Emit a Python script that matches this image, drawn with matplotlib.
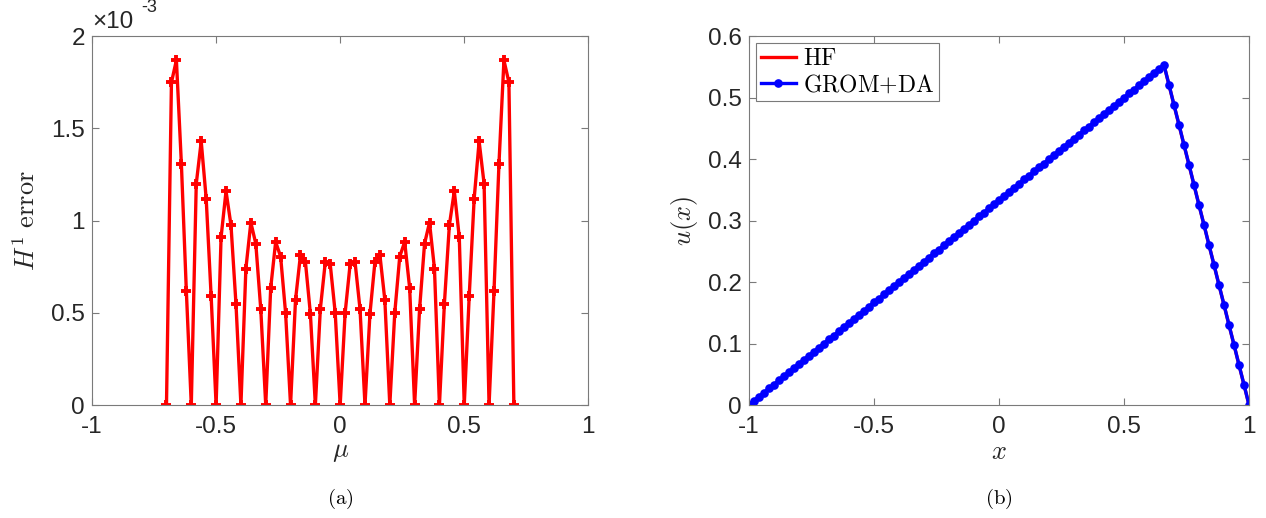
import numpy as np
import matplotlib.pyplot as plt

plt.rcParams['font.family'] = ['Liberation Sans', 'DejaVu Sans']
plt.rcParams['mathtext.fontset'] = 'cm'

# (a) H1 error vs mu, error values in units of 1e-3
mu = np.linspace(-0.7, 0.7, 71)
h1_err_e3 = [0, 1.75, 1.87, 1.31, 0.62, 0, 1.20, 1.43, 1.12, 0.59,
             0, 0.91, 1.16, 0.975, 0.55, 0, 0.74, 0.99, 0.875, 0.52,
             0, 0.635, 0.885, 0.805, 0.50, 0, 0.57, 0.815, 0.775, 0.495,
             0, 0.52, 0.775, 0.763, 0.50, 0,
             0.50, 0.763, 0.775, 0.52, 0, 0.495, 0.775, 0.815, 0.57,
             0, 0.50, 0.805, 0.885, 0.635, 0, 0.52, 0.875, 0.99, 0.74,
             0, 0.55, 0.975, 1.16, 0.91, 0, 0.59, 1.12, 1.43, 1.20,
             0, 0.62, 1.31, 1.87, 1.75, 0]

# (b) solution u(x): high fidelity and GROM+DA
hf_x = [-1.0, 0.66, 1.0]
hf_u = [0.0, 0.553, 0.0]
grom_x = np.linspace(-1.0, 1.0, 101)
grom_u = [0.000, 0.007, 0.013, 0.020, 0.027, 0.033, 0.040, 0.047, 0.053, 0.060,
          0.067, 0.073, 0.080, 0.087, 0.093, 0.100, 0.107, 0.113, 0.120, 0.127,
          0.133, 0.140, 0.147, 0.153, 0.160, 0.167, 0.173, 0.180, 0.187, 0.193,
          0.200, 0.207, 0.213, 0.220, 0.227, 0.233, 0.240, 0.247, 0.253, 0.260,
          0.267, 0.273, 0.280, 0.287, 0.293, 0.300, 0.307, 0.313, 0.320, 0.327,
          0.333, 0.340, 0.347, 0.353, 0.360, 0.367, 0.373, 0.380, 0.387, 0.393,
          0.400, 0.407, 0.413, 0.420, 0.427, 0.433, 0.440, 0.447, 0.453, 0.460,
          0.467, 0.473, 0.480, 0.487, 0.493, 0.500, 0.507, 0.513, 0.520, 0.527,
          0.533, 0.540, 0.547, 0.553,
          0.521, 0.488, 0.456, 0.423, 0.391, 0.358, 0.325, 0.293, 0.260, 0.228,
          0.195, 0.163, 0.130, 0.098, 0.065, 0.033, 0.000]

x_ticks = [-1, -0.5, 0, 0.5, 1]
x_ticklabels = ['-1', '-0.5', '0', '0.5', '1']
err_ticks = [0, 0.5, 1, 1.5, 2]
err_ticklabels = ['0', '0.5', '1', '1.5', '2']
u_ticks = [0, 0.1, 0.2, 0.3, 0.4, 0.5, 0.6]
u_ticklabels = ['0', '0.1', '0.2', '0.3', '0.4', '0.5', '0.6']

axis_col = '#7a7a7a'
text_col = '#262626'
tick_fs = 17.5


def style_axes(ax):
    for s in ax.spines.values():
        s.set_color(axis_col)
        s.set_linewidth(0.8)
    ax.tick_params(direction='in', length=5, width=0.8, color=axis_col,
                   labelcolor=text_col, labelsize=tick_fs,
                   top=True, right=True, pad=5)
    ax.tick_params(axis='x', pad=8)


fig = plt.figure(figsize=(12.66, 5.18), dpi=100)
ax1 = fig.add_axes([0.0727, 0.218, 0.392, 0.712])
ax2 = fig.add_axes([0.5916, 0.218, 0.395, 0.712])

# left panel
ax1.plot(mu, h1_err_e3, color='red', lw=2.4, marker='+', ms=7, mew=2.8)
ax1.set_xlim(-1, 1)
ax1.set_ylim(0, 2)
ax1.set_xticks(x_ticks)
ax1.set_xticklabels(x_ticklabels)
ax1.set_yticks(err_ticks)
ax1.set_yticklabels(err_ticklabels)
style_axes(ax1)
ax1.set_xlabel(r'$\mu$', fontsize=19, color=text_col, labelpad=1)
ax1.set_ylabel(r'$H^1\ \mathrm{error}$', fontsize=19, color=text_col, labelpad=8)
ax1.text(0.0, 1.01, '\u00d710', transform=ax1.transAxes, fontsize=17.5,
         color=text_col, ha='left', va='bottom')
ax1.text(0.1, 1.055, '-3', transform=ax1.transAxes, fontsize=13,
         color=text_col, ha='left', va='bottom')
ax1.text(0.5, -0.255, r'$\mathrm{(a)}$', transform=ax1.transAxes, fontsize=15,
         ha='center', va='center')

# right panel
ax2.plot(hf_x, hf_u, color='red', lw=2.4, label=r'$\mathrm{HF}$')
ax2.plot(grom_x, grom_u, color='blue', lw=2.4, marker='o', ms=5.2,
         label=r'$\mathrm{GROM{+}DA}$')
ax2.set_xlim(-1, 1)
ax2.set_ylim(0, 0.6)
ax2.set_xticks(x_ticks)
ax2.set_xticklabels(x_ticklabels)
ax2.set_yticks(u_ticks)
ax2.set_yticklabels(u_ticklabels)
style_axes(ax2)
ax2.set_xlabel(r'$x$', fontsize=19, color=text_col, labelpad=1)
ax2.set_ylabel(r'$u(x)$', fontsize=19, color=text_col, labelpad=6)
ax2.text(0.5, -0.255, r'$\mathrm{(b)}$', transform=ax2.transAxes, fontsize=15,
         ha='center', va='center')
leg = ax2.legend(loc='upper left', fontsize=17, fancybox=False, framealpha=1,
                 edgecolor=axis_col, borderaxespad=0.3, handlelength=1.5,
                 handletextpad=0.3, borderpad=0.2, labelspacing=0.15)
leg.get_frame().set_linewidth(0.8)

fig.savefig('out.png', dpi=100)
